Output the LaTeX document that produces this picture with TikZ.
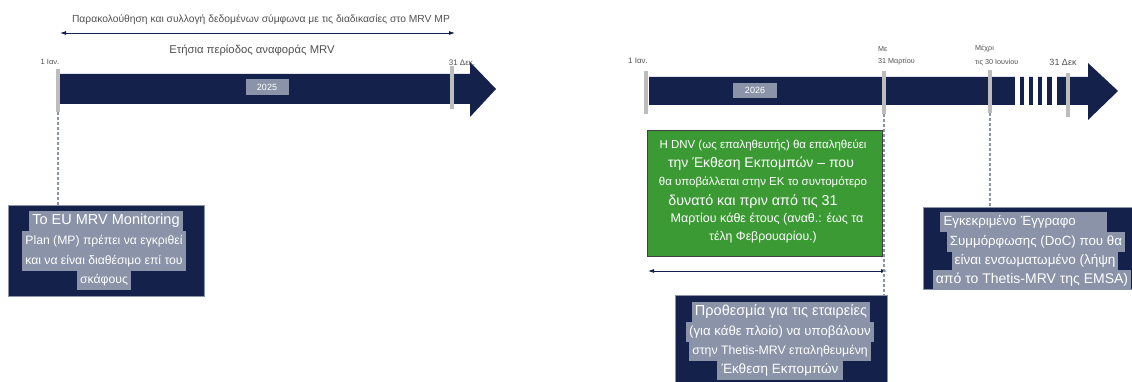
\documentclass[tikz,border=0pt]{standalone}
\usepackage{fontspec}
\setmainfont{Liberation Sans}
\usetikzlibrary{arrows.meta}
\definecolor{navy}{HTML}{13214B}
\definecolor{tickgray}{HTML}{BDBDBD}
\definecolor{hlgray}{HTML}{8A93A8}
\definecolor{dnvgreen}{HTML}{3C9A35}
\definecolor{labgray}{HTML}{505050}
\newcommand{\fs}[1]{\fontsize{#1}{#1}\selectfont}
\tikzset{
  tick/.style={fill=tickgray, minimum width=4pt, minimum height=43pt, inner sep=0pt},
  ticklabel/.style={text=labgray, inner sep=0pt},
  yearbox/.style={fill=hlgray, text=white, font=\fs{9}, minimum width=43pt, minimum height=16pt, inner sep=0pt},
  navybox/.style={fill=navy, draw=hlgray, line width=0.6pt, inner sep=0pt},
  greenbox/.style={fill=dnvgreen, draw=darkgray, line width=0.6pt, inner sep=0pt},
  hl/.style={fill=hlgray, text=white, inner xsep=3pt, inner ysep=0pt, text height=10.5pt, text depth=3.5pt, minimum height=19.5pt},
  gline/.style={text=white, inner sep=0pt},
  guide/.style={draw=hlgray, line width=1.2pt, dash pattern=on 3pt off 2pt},
  span/.style={navy, line width=0.8pt, {Latex[length=6pt,width=4pt]}-{Latex[length=6pt,width=4pt]}}
}
\begin{document}
\begin{tikzpicture}[x=1pt, y=-1pt]
	\useasboundingbox (0,0) rectangle (1132,382);
	%%%	Left timeline (2025)
	\fill[navy] (60,74) -- (470,74) -- (470,62) -- (496,89) -- (470,117) -- (470,104) -- (60,104) -- cycle;
	\node[tick] (jan1) at (58,90.5) {};
	\node[tick] (dec1) at (452,87.5) {};
	\node[ticklabel, font=\fs{7.5}] (jan1lab) at (50,62) {1 Ιαν.};
	\node[ticklabel, font=\fs{8}] (dec1lab) at (462,63) {31 Δεκ.};
	\node[yearbox] (y25) at (267,87.5) {2025};
	\node[text=labgray, font=\fs{10.3}, inner sep=0pt] (monit) at (261,20) {Παρακολούθηση και συλλογή δεδομένων σύμφωνα με τις διαδικασίες στο MRV MP};
	\coordinate (monA) at (60,33);
	\coordinate (monB) at (455,33);
	\draw[span] (monA) -- (monB);
	\node[text=labgray, font=\fs{11.3}, inner sep=0pt] (period) at (252,50) {Ετήσια περίοδος αναφοράς MRV};
	%%%	Monitoring plan box
	\node[navybox, minimum width=196pt, minimum height=91pt] (mpbox) at (106,250.5) {};
	\node[hl, font=\fs{14.5}] (mp1) at (106,221) {Το EU MRV Monitoring};
	\node[hl, font=\fs{12.2}] (mp2) at (104,241) {Plan (MP) πρέπει να εγκριθεί};
	\node[hl, font=\fs{12.2}] (mp3) at (104,261) {και να είναι διαθέσιμο επί του};
	\node[hl, font=\fs{12.2}] (mp4) at (104,280) {σκάφους};
	\draw[guide] (jan1.south) -- (jan1.south |- mpbox.north);
	%%%	Right timeline (2026)
	\fill[navy] (649,77) -- (1088,77) -- (1088,63) -- (1118,91) -- (1088,120) -- (1088,105) -- (649,105) -- cycle;
	\foreach \g in {1015,1024,1033,1042,1052}
		\fill[white] (\g,76) rectangle ++(4.5,30);
	\node[tick] (jan2) at (646,92.5) {};
	\node[tick] (mar31) at (884,92.5) {};
	\node[tick] (jun30) at (990,91.5) {};
	\node[tick, minimum height=44pt] (dec2) at (1068,95) {};
	\node[ticklabel, font=\fs{8}] (jan2lab) at (638,61) {1 Ιαν.};
	\node[ticklabel, font=\fs{7.2}, anchor=west] (mar31a) at (878,49) {Με};
	\node[ticklabel, font=\fs{7.2}, anchor=west] (mar31b) at (878,62) {31 Μαρτίου};
	\node[ticklabel, font=\fs{7.2}, anchor=west] (jun30a) at (975,49) {Μέχρι};
	\node[ticklabel, font=\fs{7.2}, anchor=west] (jun30b) at (975,62) {τις 30 Ιουνίου};
	\node[ticklabel, font=\fs{9}] (dec2lab) at (1063,62) {31 Δεκ};
	\node[yearbox, minimum width=44pt, minimum height=15pt] (y26) at (755,90.5) {2026};
	%%%	Verification box
	\node[greenbox, minimum width=235pt, minimum height=126pt] (verbox) at (764.5,193) {};
	\node[gline, font=\fs{11.5}] (v1) at (763,145) {Η DNV (ως επαληθευτής) θα επαληθεύει};
	\node[gline, font=\fs{14}] (v2) at (761,164) {την Έκθεση Εκπομπών – που};
	\node[gline, font=\fs{11.5}] (v3) at (763,182) {θα υποβάλλεται στην ΕΚ το συντομότερο};
	\node[gline, font=\fs{14.3}] (v4) at (753,202) {δυνατό και πριν από τις 31};
	\node[gline, font=\fs{12.5}] (v5) at (767,219) {Μαρτίου κάθε έτους (αναθ.: έως τα};
	\node[gline, font=\fs{12.3}] (v6) at (763,237) {τέλη Φεβρουαρίου.)};
	\coordinate (subA) at (648,271);
	\coordinate (subB) at (887,271);
	\draw[span] (subA) -- (subB);
	%%%	Submission box
	\node[navybox, minimum width=212pt, minimum height=90pt] (subbox) at (781,340) {};
	\node[hl, font=\fs{14.5}] (s1) at (781,312) {Προθεσμία για τις εταιρείες};
	\node[hl, font=\fs{13.2}] (s2) at (780,332) {(για κάθε πλοίο) να υποβάλουν};
	\node[hl, font=\fs{12.3}] (s3) at (780,351) {στην Thetis-MRV επαληθευμένη};
	\node[hl, font=\fs{13.5}, inner xsep=5pt] (s4) at (780,370) {Έκθεση Εκπομπών};
	\draw[guide] (mar31.south) -- (mar31.south |- subbox.north);
	%%%	DoC box
	\node[navybox, minimum width=209pt, minimum height=82pt] (docbox) at (1027.5,248) {};
	\node[hl, font=\fs{13.3}, minimum width=167pt, text width=160pt] (d1) at (1023.5,222) {Εγκεκριμένο Έγγραφο};
	\node[hl, font=\fs{13.3}] (d2) at (1036,242) {Συμμόρφωσης (DoC) που θα};
	\node[hl, font=\fs{13.5}] (d3) at (1035,261) {είναι ενσωματωμένο (λήψη};
	\node[hl, font=\fs{14}] (d4) at (1032,280) {από το Thetis-MRV της EMSA)};
	\draw[guide] (jun30.south) -- (jun30.south |- docbox.north);
\end{tikzpicture}
\end{document}
